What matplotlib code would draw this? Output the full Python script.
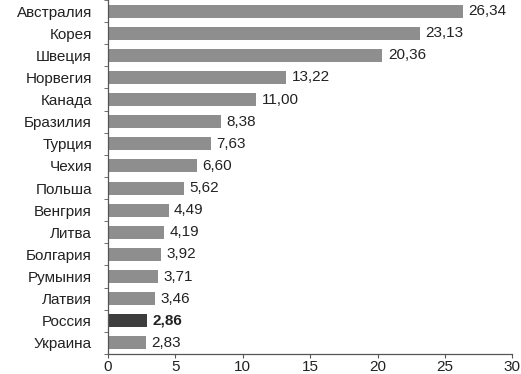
import numpy as np
import matplotlib.pyplot as plt

plt.rcParams['font.family'] = ['Liberation Sans', 'DejaVu Sans']

countries = ['Австралия', 'Корея', 'Швеция', 'Норвегия', 'Канада', 'Бразилия',
             'Турция', 'Чехия', 'Польша', 'Венгрия', 'Литва', 'Болгария',
             'Румыния', 'Латвия', 'Россия', 'Украина']
values = [26.34, 23.13, 20.36, 13.22, 11.00, 8.38, 7.63, 6.60, 5.62, 4.49,
          4.19, 3.92, 3.71, 3.46, 2.86, 2.83]
highlight = 'Россия'

fig = plt.figure(figsize=(5.21, 3.74), dpi=100)
ax = fig.add_axes([0.2073, 0.0535, 0.776, 0.9465])

y = np.arange(len(countries))
colors = ['#3d3d3d' if c == highlight else '#8e8e8e' for c in countries]
ax.barh(y, values, height=0.59, color=colors)

for yi, v, c in zip(y, values, countries):
    txt = f'{v:.2f}'.replace('.', ',')
    ax.annotate(txt, (v, yi), xytext=(4, 0), textcoords='offset points',
                va='center', ha='left', fontsize=11, color='#222222',
                fontweight='bold' if c == highlight else 'normal')

ax.set_ylim(len(countries) - 0.5, -0.5)
ax.set_xlim(0, 30)
ax.set_xticks(range(0, 31, 5))
ax.set_yticks(y)
ax.set_yticklabels(countries)
ax.set_yticks(np.arange(-0.5, len(countries)), minor=True)

ax.tick_params(axis='y', which='major', length=0, pad=11.5, labelsize=11,
               labelcolor='#222222')
ax.tick_params(axis='y', which='minor', length=3, direction='out', color='#555555')
ax.tick_params(axis='x', length=3, direction='out', pad=1.5, labelsize=11,
               labelcolor='#222222', color='#555555')

for s in ['top', 'right']:
    ax.spines[s].set_visible(False)
for s in ['left', 'bottom']:
    ax.spines[s].set_color('#555555')
    ax.spines[s].set_linewidth(0.9)

fig.savefig('out.png', dpi=100)
